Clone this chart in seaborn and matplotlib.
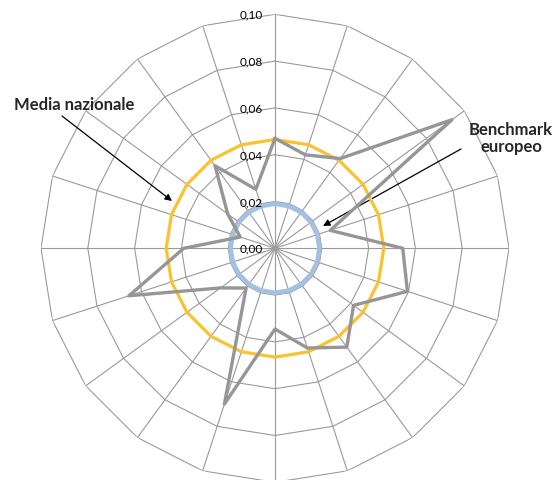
import numpy as np
import pandas as pd
import matplotlib
matplotlib.use("Agg")
import matplotlib.pyplot as plt
import seaborn as sns

# Values (20 spokes, clockwise from the top)
categories = [f"C{i + 1}" for i in range(20)]
serie = [0.047, 0.042, 0.0474, 0.0935, 0.0248, 0.0546, 0.0595, 0.0415, 0.0522, 0.0448,
         0.0345, 0.070, 0.021, 0.0288, 0.0656, 0.039, 0.0156, 0.025, 0.0436, 0.0265]
media_nazionale = [0.0465] * 20
benchmark_europeo = [0.019] * 20
tick_values = [0.00, 0.02, 0.04, 0.06, 0.08, 0.10]
tick_labels = ["0,00", "0,02", "0,04", "0,06", "0,08", "0,10"]

sns.set_theme(style="white")
plt.rcParams["font.family"] = ["Lato", "DejaVu Sans"]

n = len(categories)
theta = np.linspace(0, 2 * np.pi, n, endpoint=False)
theta_closed = np.append(theta, 2 * np.pi)


def closed(vals):
    return np.append(vals, vals[0])


df = pd.concat([
    pd.DataFrame({"theta": theta_closed, "value": closed(serie), "serie": "dato"}),
    pd.DataFrame({"theta": theta_closed, "value": closed(media_nazionale), "serie": "media"}),
    pd.DataFrame({"theta": theta_closed, "value": closed(benchmark_europeo), "serie": "benchmark"}),
])

fig = plt.figure(figsize=(5.58, 4.81), dpi=100)
ax = fig.add_axes([41 / 558, -2.3 / 481, 468 / 558, 468 / 481], projection="polar")
ax.set_theta_zero_location("N")
ax.set_theta_direction(-1)
ax.set_ylim(0, 0.10)
ax.grid(False)
ax.set_xticks([])
ax.set_yticks([])
ax.spines["polar"].set_visible(False)
ax.patch.set_alpha(0)

grid_col = "#9a9a9a"
# spokes
for t in theta:
    ax.plot([t, t], [0, 0.10], color=grid_col, lw=0.8, zorder=1)
# polygon rings
for r in tick_values[1:]:
    ax.plot(theta_closed, [r] * (n + 1), color=grid_col, lw=0.8, zorder=1)

palette = {"dato": "#969696", "media": "#F9C22E", "benchmark": "#A4C0E2"}
widths = {"dato": 2.4, "media": 2.3, "benchmark": 3.3}
order = ["benchmark", "media", "dato"]
for i, s in enumerate(order):
    sub = df[df["serie"] == s]
    sns.lineplot(data=sub, x="theta", y="value", sort=False, estimator=None,
                 color=palette[s], lw=widths[s], ax=ax, legend=False, zorder=3 + i)
ax.set_xlabel("")
ax.set_ylabel("")
ax.set_ylim(0, 0.10)

for v, lab in zip(tick_values, tick_labels):
    ax.annotate(lab, xy=(0, v), xytext=(-12, 0), textcoords="offset pixels",
                ha="right", va="center", fontsize=8.5, color="black", zorder=10)

# annotations
fig.text(74 / 558, 1 - 105 / 481, "Media nazionale", ha="center", va="center",
         fontsize=12, fontweight="bold")
fig.text(511 / 558, 1 - 138.5 / 481, "Benchmark\neuropeo", ha="center", va="center",
         fontsize=12, fontweight="bold", linespacing=1.05)
arrow = dict(arrowstyle="-|>", color="black", lw=0.9, mutation_scale=10,
             shrinkA=0, shrinkB=0)
ax.annotate("", xy=(172, 481 - 202), xycoords="figure pixels",
            xytext=(62, 481 - 117), textcoords="figure pixels", arrowprops=arrow)
ax.annotate("", xy=(323, 481 - 227), xycoords="figure pixels",
            xytext=(461, 481 - 150), textcoords="figure pixels", arrowprops=arrow)

fig.savefig("out.png", dpi=100)
